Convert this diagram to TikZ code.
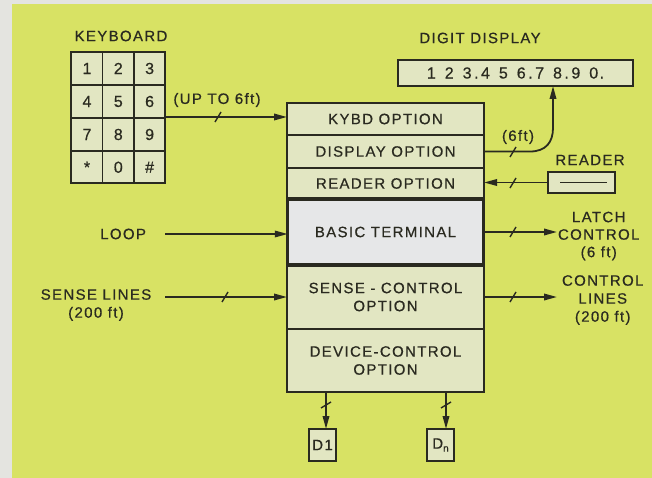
\documentclass[tikz,border=0pt]{standalone}
\usepackage{fontspec}
\setmainfont{Liberation Sans}[LetterSpace=9,FakeBold=0.6]
\usetikzlibrary{arrows.meta,calc}
\definecolor{strip}{RGB}{228,228,224}
\definecolor{bg}{RGB}{216,226,100}
\definecolor{boxfill}{RGB}{226,230,194}
\definecolor{basicfill}{RGB}{230,231,232}
\definecolor{ink}{RGB}{42,42,32}
\newcommand{\lbl}{\fontsize{15}{18}\selectfont}
\newcommand{\gp}{\hspace*{9pt}}
\newcommand{\dt}{\hspace*{2.5pt}.\hspace*{2.5pt}}
\begin{document}
\begin{tikzpicture}[x=1pt,y=-1pt,
  every node/.style={text=ink,font=\lbl,inner sep=1pt,outer sep=0pt},
  optbox/.style={draw=ink,fill=boxfill,line width=1.8pt,minimum width=197pt,align=center},
  keybox/.style={draw=ink,fill=boxfill,line width=1.6pt,minimum width=31.3pt,minimum height=32.75pt,font=\fontsize{16}{18}\selectfont},
  smallbox/.style={draw=ink,fill=boxfill,line width=1.6pt},
  conn/.style={draw=ink,line width=1.8pt},
  arr/.style={conn,-{Triangle[length=13pt,width=6.5pt]}},
  tickmark/.style={draw=ink,line width=1.4pt}
]
\useasboundingbox (0,0) rectangle (652,478);
\fill[strip] (0,0) rectangle (652,478);
\fill[bg] (12,4) rectangle (652,478);

% ---------- keyboard ----------
\node (kbtitle) at (121,36) {KEYBOARD};
\foreach \r/\a/\b/\c [count=\i] in {68.5/1/2/3,101.5/4/5/6,134.5/7/8/9,167.25/{\raisebox{-3pt}{*}}/0/\#}{
  \node[keybox] (k\i a) at (87,\r) {\a};
  \node[keybox] (k\i b) at (118.3,\r) {\b};
  \node[keybox] (k\i c) at (149.6,\r) {\c};
}
\node[draw=ink,line width=1.8pt,minimum width=94pt,minimum height=131pt] (keyboard) at (118.3,117.6) {};

% ---------- main stack ----------
\node[optbox,minimum height=32pt] (kybd) at (385.5,119) {KYBD OPTION};
\node[optbox,minimum height=33pt] (display) at (385.5,151.5) {DISPLAY OPTION};
\node[optbox,minimum height=31pt] (reader) at (385.5,183.5) {READER OPTION};
\node[optbox,minimum height=64pt] (sense) at (385.5,297) {SENSE - CONTROL\\OPTION};
\node[optbox,minimum height=63pt] (device) at (385.5,360.5) {DEVICE-CONTROL\\OPTION};
\node[optbox,fill=basicfill,line width=3.2pt,minimum height=66pt,minimum width=195.5pt] (basic) at (385.5,232) {BASIC TERMINAL};

% ---------- digit display ----------
\node (digtitle) at (480,38) {DIGIT DISPLAY};
\node[smallbox,minimum width=235pt,minimum height=26pt,font=\fontsize{16}{18}\selectfont] (digits) at (515.5,73) {1\gp 2\gp 3\dt 4\gp 5\gp 6\dt 7\gp 8\dt 9\gp 0.};

% ---------- reader ----------
\node (readertitle) at (590,160) {READER};
\node[smallbox,minimum width=67pt,minimum height=21pt] (readerbox) at (581.5,182.5) {};
\draw[conn,line width=1.4pt] ([xshift=12pt]readerbox.west) -- ([xshift=-8pt]readerbox.east);

% ---------- labels ----------
\node (upto) at (217,100) {(UP TO 6ft)};
\node (sixft) at (518,137) {(6ft)};
\node[anchor=east] (loop) at (147,234) {LOOP};
\node[align=center] (senselbl) at (96,305) {SENSE LINES\\(200 ft)};
\node[align=center,anchor=west,font=\fontsize{15}{17.5}\selectfont] (latch) at (557,236) {LATCH\\CONTROL\\(6 ft)};
\node[align=center,anchor=west,font=\fontsize{15}{18}\selectfont] (ctrl) at (561,300) {CONTROL\\LINES\\(200 ft)};

% ---------- devices ----------
\node[smallbox,minimum width=27pt,minimum height=32pt] (d1) at (322.5,445) {D1};
\node[smallbox,minimum width=27pt,minimum height=32pt] (dn) at (440.5,445) {D\raisebox{-3pt}{\fontsize{10}{10}\selectfont n}};

% ---------- connectors ----------
\coordinate (loopin) at (165,234);
\coordinate (sensein) at (165,297);
\coordinate (bend) at (553,128);
\draw[arr] (keyboard.east |- 0,117) -- (kybd.west |- 0,117);
\draw[arr] (loopin) -- (loopin -| basic.west);
\draw[arr] (sensein) -- (sensein -| sense.west);
\draw[arr] (display.east) -- ([xshift=46pt]display.east) .. controls (546,151.5) and (553,142) .. (bend) -- (bend |- digits.south);
\draw[arr] (readerbox.west) -- (readerbox.west -| reader.east);
\draw[arr] (basic.east) -- (basic.east -| latch.west);
\draw[arr] (sense.east) -- (sense.east -| latch.west);
\draw[arr] ([xshift=3.5pt]d1.north |- device.south) -- ([xshift=3.5pt]d1.north);
\draw[arr] ([xshift=5.5pt]dn.north |- device.south) -- ([xshift=5.5pt]dn.north);

% ---------- tick marks ----------
\foreach \x/\y in {218/117, 225/297, 513/152, 513/183, 513/232, 513/297}{
  \draw[tickmark] (\x-3,\y+5) -- (\x+3,\y-5);
}
\foreach \x/\y in {326/405, 446/405}{
  \draw[tickmark] (\x-5,\y+3) -- (\x+5,\y-3);
}
\end{tikzpicture}
\end{document}
